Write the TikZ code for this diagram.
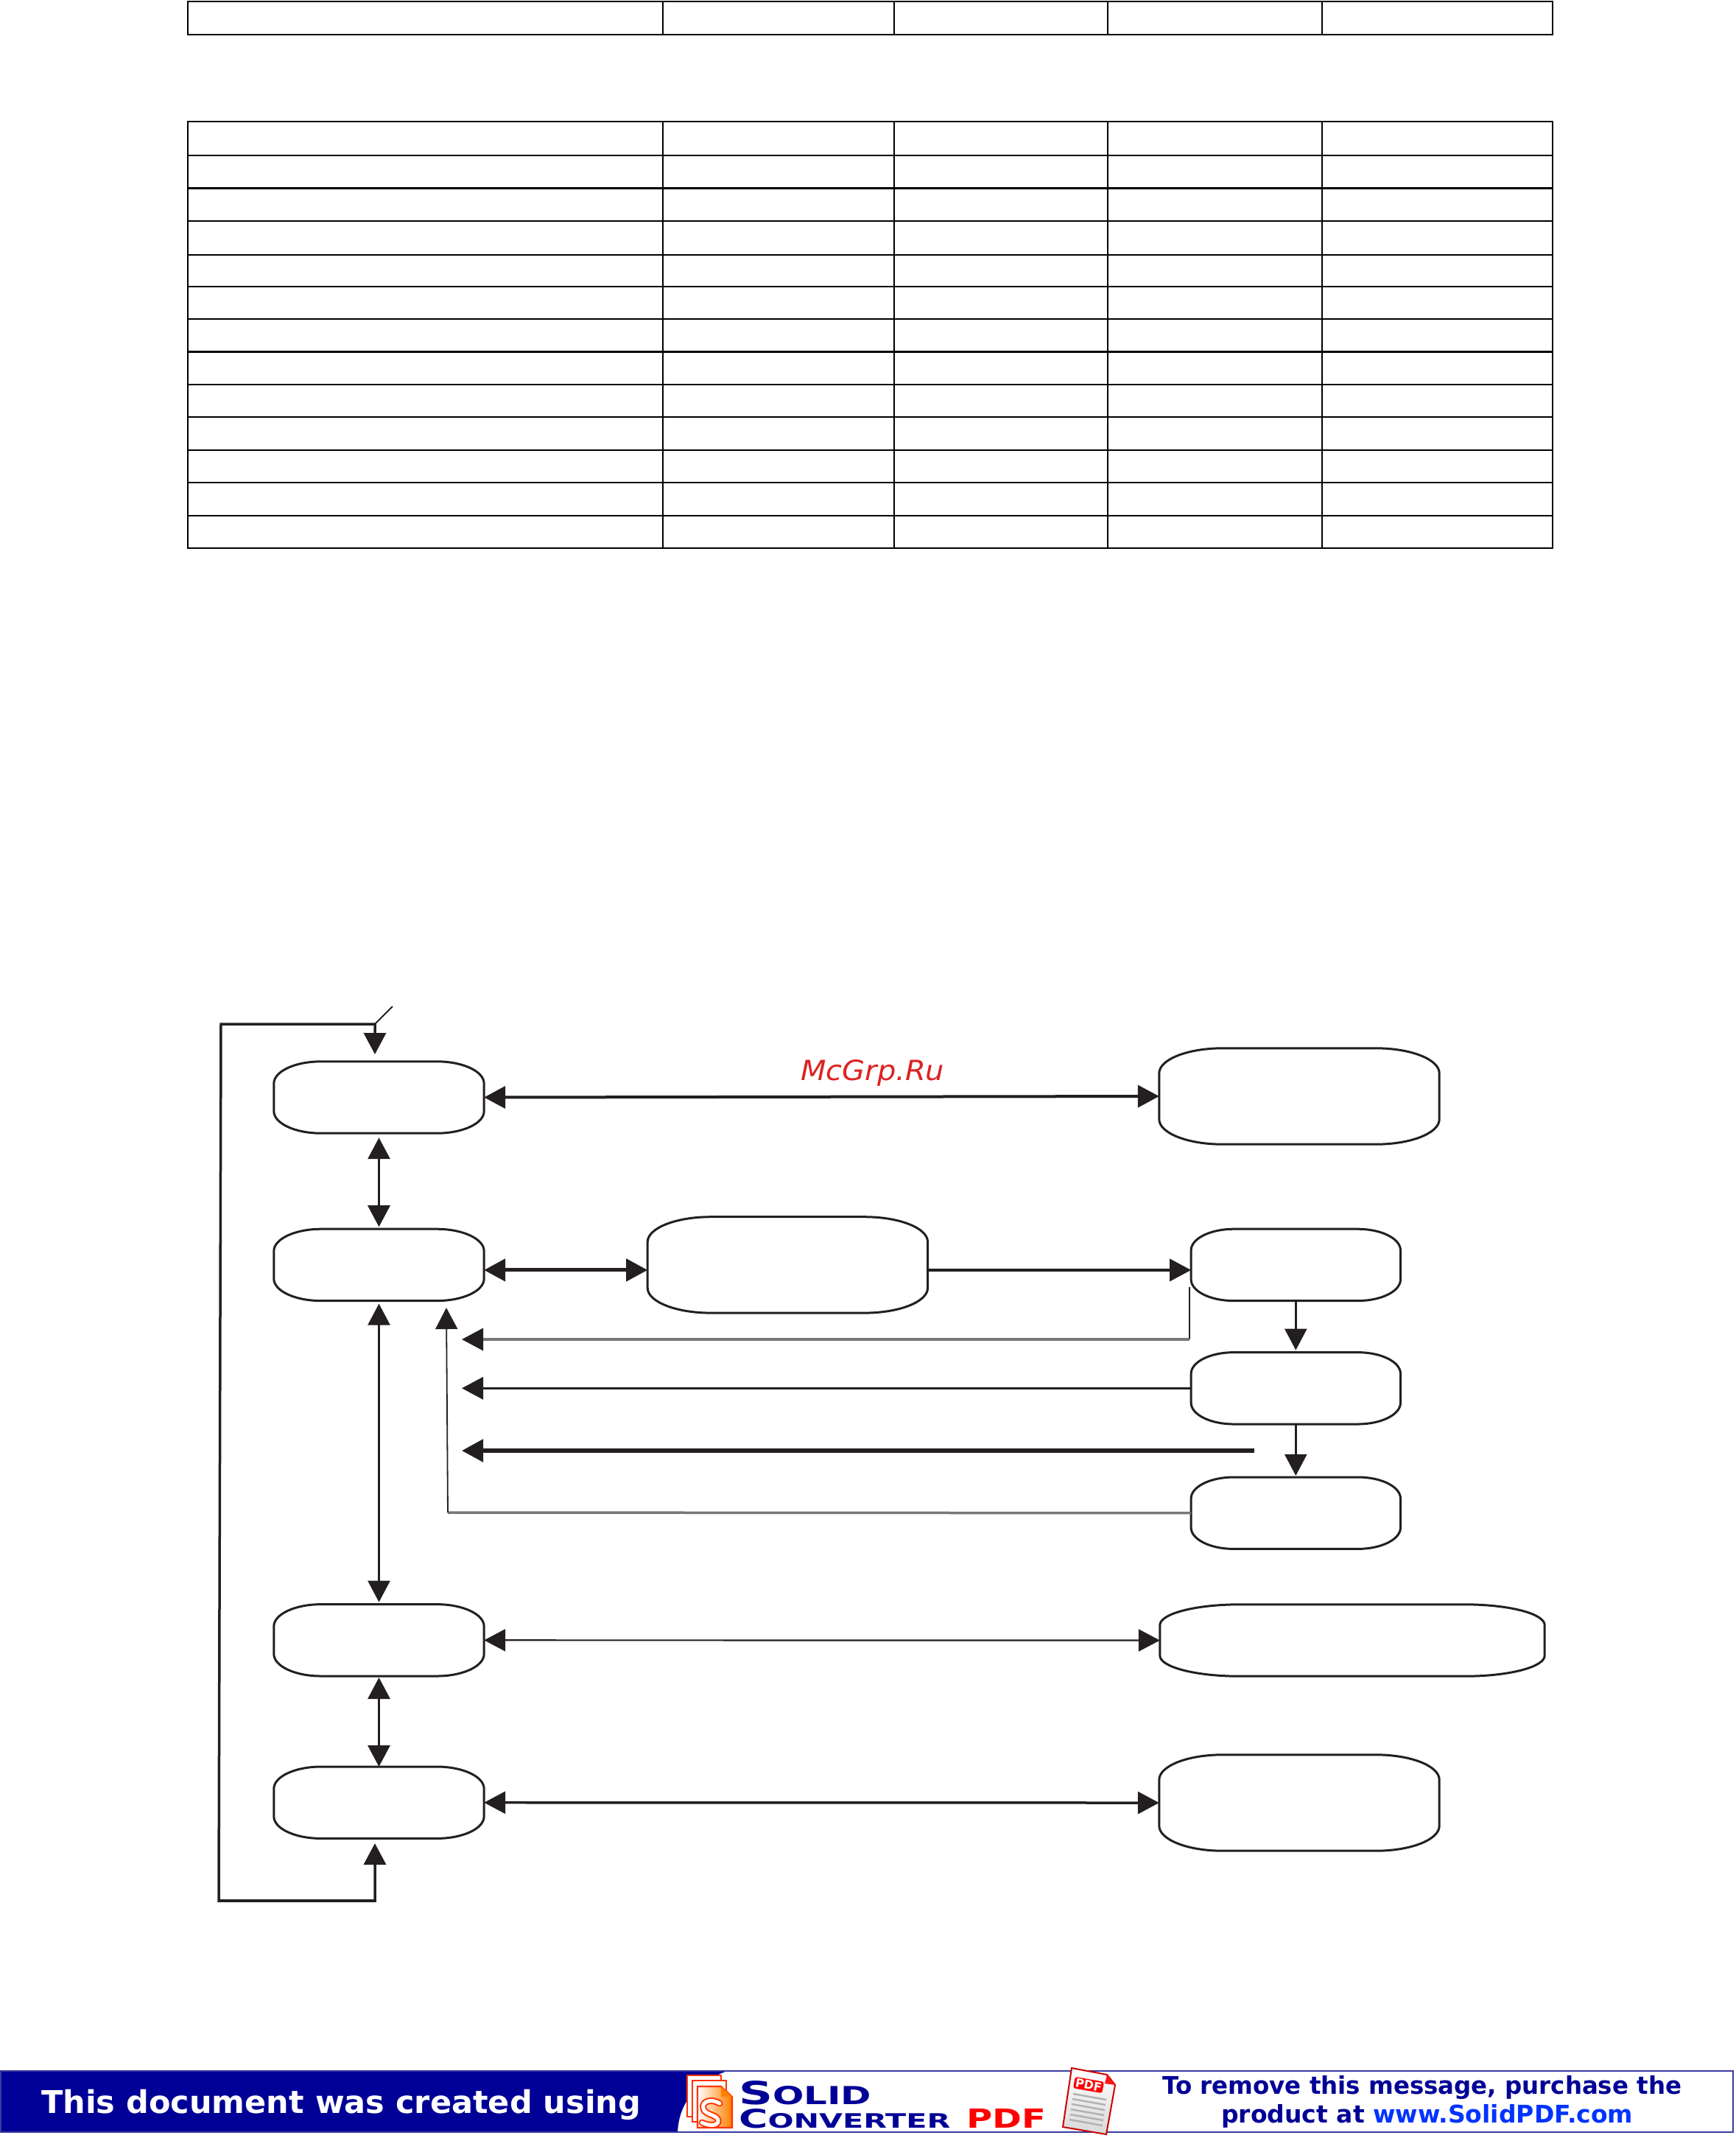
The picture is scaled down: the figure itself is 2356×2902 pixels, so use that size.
\documentclass[tikz,border=0pt]{standalone}
\usepackage{fontspec}
\setmainfont{DejaVu Sans}
\usepackage{xcolor}
\usepackage{tikz}
\usetikzlibrary{arrows.meta, positioning, calc, shadings}
\definecolor{inkblack}{HTML}{231F20}
\definecolor{feedgray}{HTML}{777777}
\definecolor{banddark}{HTML}{000096}
\definecolor{bandedge}{HTML}{3A3AA0}
\definecolor{linkblue}{HTML}{0033FF}
\definecolor{stamp}{HTML}{DD2222}
\definecolor{logored}{HTML}{FF3300}
\tikzset{ovalbox/.style n args={4}{rectangle, minimum width=#1, minimum height=#2, inner sep=0pt,
  append after command={\pgfextra{\draw [inkblack, line width=3pt]
    ([xshift=#3]\tikzlastnode.north west) -- ([xshift=-#3]\tikzlastnode.north east)
    arc[start angle=90, end angle=0, x radius=#3, y radius=#4] -- ([yshift=#4]\tikzlastnode.south east)
    arc[start angle=0, end angle=-90, x radius=#3, y radius=#4] -- ([xshift=#3]\tikzlastnode.south west)
    arc[start angle=270, end angle=180, x radius=#3, y radius=#4] -- ([yshift=-#4]\tikzlastnode.north west)
    arc[start angle=180, end angle=90, x radius=#3, y radius=#4] -- cycle;}}}}
\tikzstyle{smallbox} = [ovalbox={285pt}{97pt}{64pt}{30pt}]
\tikzstyle{rightbox} = [ovalbox={284pt}{97pt}{58pt}{29pt}]
\tikzstyle{tallbox} = [ovalbox={380pt}{130pt}{86pt}{34pt}]
\tikzstyle{widebox} = [ovalbox={522pt}{97pt}{108pt}{28pt}]
\tikzstyle{arrow} = [->, inkblack, line width=3pt]
\tikzstyle{twoway} = [<->, inkblack, line width=3.2pt]
\tikzstyle{feed} = [-{Triangle[length=29pt, width=30pt, color=inkblack]}, feedgray, line width=3.5pt]
\tikzstyle{tableline} = [line width=2.8pt, black]
\tikzstyle{bandtext} = [inner sep=0pt, anchor=base west, font=\bfseries]

\begin{document}
\begin{tikzpicture}[x=1pt, y=-1pt, >={Triangle[length=29pt, width=30pt]}]
\useasboundingbox (0,0) rectangle (2356,2902);

% tables
\draw [tableline] (255,2) rectangle (2108,47);
\draw [tableline] (255,165) rectangle (2108,744);
\foreach \rowy in {211,255.5,300,346,389,433,477.5,522,566,611,655,700}
  \draw [tableline] (255,\rowy) -- (2108,\rowy);
\foreach \colx in {900,1214,1504,1795} {
  \draw [tableline, line width=2.6pt] (\colx,2) -- (\colx,47);
  \draw [tableline, line width=2.6pt] (\colx,165) -- (\colx,744);
}

% boxes
\node (boxa) [smallbox] at (514.5,1489.5) {};
\node (boxb) [smallbox, below=130pt of boxa] {};
\node (boxh) [smallbox, below=412pt of boxb] {};
\node (boxi) [smallbox, below=123pt of boxh] {};
\node (boxc) [tallbox, right=222pt of boxb] {};
\node (boxe) [rightbox, right=357.5pt of boxc] {};
\node (boxf) [rightbox, below=70pt of boxe] {};
\node (boxg) [rightbox, below=72pt of boxf] {};
\node (boxd) [tallbox] at (1764,1488) {};
\node (boxj) [widebox] at (1836,2226.5) {};
\node (boxk) [tallbox] at (1764,2447) {};

\node (stampmark) [inner sep=0pt, anchor=base west, text=stamp] at (1087,1466)
  {\resizebox{195pt}{\height}{\fontsize{37.7pt}{40pt}\selectfont\itshape McGrp.Ru}};

\coordinate (inatip) at (509,1431);
\coordinate (looptr) at (509,1390);
\coordinate (looptl) at (300,1390);
\coordinate (loopbl) at (297,2580);
\coordinate (loopbr) at (509,2580);
\coordinate (initip) at (509,2502);
\coordinate (ticktop) at (533,1366);
\coordinate (busx) at (627,1818);
\coordinate (eout) at (1615,1747);
\coordinate (ecorner) at (1615,1818);
\coordinate (thickstart) at (1703,1969);
\coordinate (gcorner) at (608,2053);
\coordinate (gtip) at (606,1775);

% connectors
\draw [twoway, line width=3.5pt] (inatip) -- (looptr) -- (looptl) -- (loopbl) -- (loopbr) -- (initip);
\draw [inkblack, line width=4.5pt] (loopbl) -- (loopbr);
\draw [inkblack, line width=2pt] (looptr) -- (ticktop);
\draw [twoway, line width=4pt] (boxa.east) -- (boxd.west);
\draw [twoway, shorten <=6pt, shorten >=3pt] (boxa.south) -- (boxb.north);
\draw [twoway, line width=5pt] ([yshift=-7pt]boxb.east) -- ([yshift=-7pt]boxc.west);
\draw [arrow, line width=4pt] ([yshift=-7pt]boxc.east) -- ([yshift=-7pt]boxe.west);
\draw [inkblack, line width=1.8pt] (eout) -- (ecorner);
\draw [feed] (ecorner) -- (busx);
\draw [arrow, line width=3.5pt] (boxf.west) -- (boxf.west -| busx);
\draw [arrow, line width=5.5pt] (thickstart) -- (thickstart -| busx);
\draw [feedgray, line width=3.5pt] (boxg.west) -- (gcorner);
\draw [arrow, line width=1.8pt] (gcorner) -- (gtip);
\draw [arrow, line width=2.5pt, shorten >=3pt] (boxe.south) -- (boxf.north);
\draw [arrow, line width=2.5pt, shorten >=2pt] (boxf.south) -- (boxg.north);
\draw [twoway, line width=2.8pt, shorten <=4pt, shorten >=3pt] (boxb.south) -- (boxh.north);
\draw [twoway, shorten <=2pt] (boxh.south) -- (boxi.north);
\draw [twoway, line width=2.2pt] (boxh.east) -- (boxj.west);
\draw [twoway, line width=3.5pt] (boxi.east) -- (boxk.west);

% footer band
\fill [banddark] (1,2811) -- (987,2811) .. controls (950,2825) and (922,2850) .. (920,2894) -- (1,2894) -- cycle;
\draw [bandedge, line width=2.5pt] (1,2811) rectangle (2353,2894);
\node (bandleft) [bandtext, text=white] at (56,2868)
  {\resizebox{814pt}{\height}{\fontsize{42.5pt}{44pt}\selectfont This document was created using}};
\node (bandright) [bandtext, text=banddark] at (1578,2842)
  {\resizebox{705pt}{\height}{\fontsize{33pt}{36pt}\selectfont To remove this message, purchase the}};
\node (bandlink) [bandtext, text=banddark] at (1658,2881)
  {\resizebox{559pt}{\height}{\fontsize{33pt}{36pt}\selectfont product at \textcolor{linkblue}{www.SolidPDF.com}}};

% logo
\foreach \pagex/\pagey in {933/2817, 940/2824} {
  \draw [logored, line width=2.2pt, fill=white] (\pagex,\pagey) rectangle ++(46,56);
}
\draw [logored, line width=2.2pt, left color=white, right color=orange] (947,2832) -- (979,2832) -- (994,2846) -- (994,2888) -- (947,2888) -- cycle;
\fill [orange] (979,2832) -- (994,2846) -- (979,2846) -- cycle;
\draw [logored, line width=9pt, line cap=round] (977,2855) .. controls (966,2848) and (952,2852) .. (955,2862) .. controls (957,2871) and (974,2870) .. (975,2878) .. controls (976,2887) and (960,2885) .. (953,2881);
\draw [white, line width=5pt, line cap=round] (977,2855) .. controls (966,2848) and (952,2852) .. (955,2862) .. controls (957,2871) and (974,2870) .. (975,2878) .. controls (976,2887) and (960,2885) .. (953,2881);
\node (logosolid) [bandtext, text=banddark] at (1003,2856)
  {\resizebox{180pt}{32pt}{\fontsize{32pt}{34pt}\selectfont S\fontsize{25pt}{34pt}\selectfont OLID}};
\node (logoconv) [bandtext, text=banddark] at (1003,2888)
  {\resizebox{287pt}{26pt}{\fontsize{26pt}{28pt}\selectfont C\fontsize{20pt}{28pt}\selectfont ONVERTER}};
\node (logopdf) [bandtext, text=red] at (1312,2888)
  {\resizebox{108pt}{26pt}{\fontsize{26pt}{28pt}\selectfont PDF}};

% pdf page
\draw [red!80!black, line width=2pt, top color=white, bottom color=black!15] (1455,2807) -- (1503,2816) -- (1514,2830) -- (1502,2897) -- (1443,2887) -- cycle;
\fill [red!90!pink] (1503,2816) -- (1514,2830) -- (1500,2828) -- cycle;
\node (pdflabel) [rotate=-10, fill=red, rounded corners=3pt, text=white, inner sep=2pt, font=\bfseries\fontsize{16pt}{18pt}\selectfont] at (1478,2830) {PDF};
\foreach \ln in {0,...,5}
  \draw [black!30, line width=2.5pt] (1457-\ln,2842+7*\ln) -- (1502-\ln,2850+7*\ln);

\end{tikzpicture}
\end{document}
